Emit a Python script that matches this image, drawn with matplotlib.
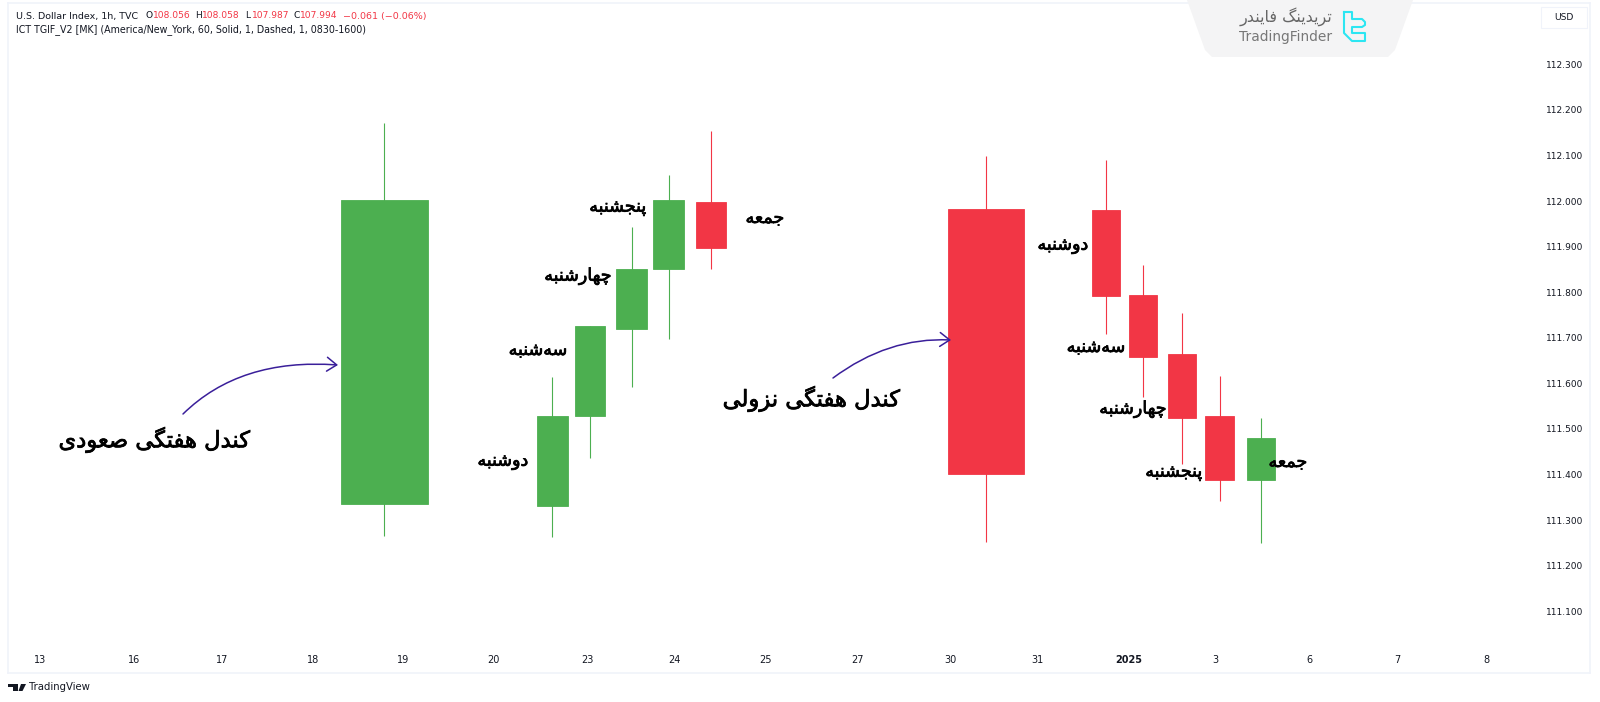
import matplotlib
matplotlib.use('Agg')
import matplotlib.pyplot as plt
import matplotlib.patheffects as pe
from matplotlib.patches import Polygon, FancyArrowPatch
from matplotlib.lines import Line2D
from matplotlib.path import Path

# price levels and time scale
price_ticks = [112.3, 112.2, 112.1, 112.0, 111.9, 111.8, 111.7, 111.6, 111.5, 111.4, 111.3, 111.2, 111.1]
day_labels = ['13', '16', '17', '18', '19', '20', '23', '24', '25', '27', '30', '31', '2025', '3', '6', '7', '8']
day_pos = [0, 1.05, 2.02, 3.03, 4.03, 5.03, 6.07, 7.04, 8.04, 9.06, 10.10, 11.06, 12.07, 13.03, 14.07, 15.05, 16.04]

# candles
candle_x = [3.82, 5.68, 6.10, 6.56, 6.97, 7.44, 10.49, 11.82, 12.23, 12.66, 13.08, 13.54]
candle_w = [0.97, 0.34, 0.34, 0.34, 0.34, 0.34, 0.85, 0.315, 0.315, 0.315, 0.315, 0.315]
opens = [111.335, 111.331, 111.528, 111.720, 111.850, 111.998, 111.982, 111.980, 111.794, 111.664, 111.528, 111.389]
closes = [112.002, 111.528, 111.725, 111.850, 112.002, 111.897, 111.402, 111.792, 111.657, 111.523, 111.389, 111.481]
highs = [112.172, 111.615, 111.725, 111.942, 112.058, 112.154, 112.099, 112.090, 111.859, 111.754, 111.617, 111.523]
lows = [111.266, 111.263, 111.436, 111.593, 111.698, 111.850, 111.252, 111.709, 111.570, 111.422, 111.342, 111.250]

GREEN = '#4CAF50'
RED = '#F23645'
FIG_W, FIG_H = 1600, 702

# matplotlib does no arabic shaping, so pick the presentation forms here
# letter: isolated, final, initial, medial
FORMS = {
    'ا': '\uFE8D\uFE8E', 'د': '\uFEA9\uFEAA', 'ر': '\uFEAD\uFEAE', 'ز': '\uFEAF\uFEB0', 'و': '\uFEED\uFEEE',
    'ب': '\uFE8F\uFE90\uFE91\uFE92', 'پ': '\uFB56\uFB57\uFB58\uFB59', 'ت': '\uFE95\uFE96\uFE97\uFE98',
    'ج': '\uFE9D\uFE9E\uFE9F\uFEA0', 'چ': '\uFB7A\uFB7B\uFB7C\uFB7D', 'س': '\uFEB1\uFEB2\uFEB3\uFEB4',
    'ش': '\uFEB5\uFEB6\uFEB7\uFEB8', 'ص': '\uFEB9\uFEBA\uFEBB\uFEBC', 'ع': '\uFEC9\uFECA\uFECB\uFECC',
    'ف': '\uFED1\uFED2\uFED3\uFED4', 'ک': '\uFB8E\uFB8F\uFB90\uFB91', 'گ': '\uFB92\uFB93\uFB94\uFB95',
    'ل': '\uFEDD\uFEDE\uFEDF\uFEE0', 'م': '\uFEE1\uFEE2\uFEE3\uFEE4', 'ن': '\uFEE5\uFEE6\uFEE7\uFEE8',
    'ه': '\uFEE9\uFEEA\uFEEB\uFEEC', 'ی': '\uFBFC\uFBFD\uFBFE\uFBFF',
}


def fa(text):
    out = []
    for i, ch in enumerate(text):
        if ch not in FORMS:
            if ch != '\u200c':
                out.append(ch)
            continue
        f = FORMS[ch]
        prev = text[i - 1] if i > 0 else ''
        nxt = text[i + 1] if i + 1 < len(text) else ''
        from_prev = prev in FORMS and len(FORMS[prev]) == 4
        to_next = nxt in FORMS and len(f) == 4
        if from_prev and to_next:
            out.append(f[3])
        elif to_next:
            out.append(f[2])
        elif from_prev:
            out.append(f[1])
        else:
            out.append(f[0])
    return ''.join(out[::-1])


def fx(x):
    return x / FIG_W


def fy(y):
    return 1 - y / FIG_H


plt.rcParams['font.family'] = ['DejaVu Sans']
fig = plt.figure(figsize=(16, 7.02), dpi=100)
fig.patch.set_facecolor('white')

# panel, whole chart incl. the price scale
L, R, T, B = 8, 1590, 3, 673
ax = fig.add_axes([fx(L), fy(B), fx(R - L), (B - T) / FIG_H])
ax.set_xlim(-0.353, 17.186)
ax.set_ylim(110.9645, 112.4345)
for s in ax.spines.values():
    s.set_color('#F0F3FA')
    s.set_linewidth(1.2)

for x, w, o, c, h, l in zip(candle_x, candle_w, opens, closes, highs, lows):
    col = GREEN if c >= o else RED
    ax.vlines(x, l, h, color=col, linewidth=0.8, zorder=2)
    ax.bar(x, abs(c - o), w, bottom=min(o, c), color=col, edgecolor=col, linewidth=0.6, zorder=3)

ax.yaxis.tick_right()
ax.set_yticks(price_ticks)
ax.set_yticklabels(['%.3f' % p for p in price_ticks])
ax.tick_params(axis='y', length=0, pad=-31.7, labelsize=6.5, labelcolor='#131722')
ax.set_xticks(day_pos)
ax.set_xticklabels(day_labels)
ax.tick_params(axis='x', length=0, pad=-13, labelsize=7, labelcolor='#131722')
ax.get_xticklabels()[day_labels.index('2025')].set_fontweight('bold')

# header
fig.text(fx(16), fy(16), 'U.S. Dollar Index, 1h, TVC', fontsize=6.8, color='#131722', va='center')
ohlc = [(146, 'O', '108.056'), (195, 'H', '108.058'), (245, 'L', '107.987'), (293, 'C', '107.994')]
for x, k, v in ohlc:
    fig.text(fx(x), fy(16), k, fontsize=6.6, color='#131722', va='center')
    fig.text(fx(x + 7), fy(16), v, fontsize=6.6, color=RED, va='center')
fig.text(fx(343), fy(16), '\u22120.061 (\u22120.06%)', fontsize=6.8, color=RED, va='center')
fig.text(fx(16), fy(30), 'ICT TGIF_V2 [MK] (America/New_York, 60, Solid, 1, Dashed, 1, 0830-1600)',
         fontsize=6.85, color='#131722', va='center')

# usd box
fig.text(fx(1564), fy(18), 'USD', fontsize=6.6, color='#131722', va='center', ha='center')
fig.add_artist(plt.Rectangle((fx(1541), fy(28)), 46 / FIG_W, 21 / FIG_H, transform=fig.transFigure,
                             fc='white', ec='#F0F3FA', lw=0.8, zorder=0.5))

# logo tab
tab = [(1187, 0), (1413, 0), (1395, 50), (1388, 57), (1212, 57), (1205, 50)]
fig.add_artist(Polygon([(fx(x), fy(y)) for x, y in tab], closed=True, transform=fig.transFigure,
                       fc='#F4F4F5', ec='none', zorder=3))
fig.text(fx(1332), fy(17), fa('تریدینگ فایندر'), fontsize=11.5, color='#666666', ha='right', va='center', zorder=4)
fig.text(fx(1332), fy(37), 'TradingFinder', fontsize=9.9, color='#777777', ha='right', va='center', zorder=4)
mark = [(1344, 12), (1352, 12), (1352, 19), (1362, 19), (1365, 22), (1365, 25), (1362, 27), (1352, 27), (1352, 33),
        (1365, 33), (1365, 41), (1352, 41), (1344, 33), (1344, 12)]
fig.add_artist(Line2D([fx(x) for x, y in mark], [fy(y) for x, y in mark], transform=fig.transFigure,
                      color='#2CE6F2', lw=1.5, zorder=4))

# persian labels, positions in pixels
bold = [pe.withStroke(linewidth=0.55, foreground='black')]
labels = [
    ('دوشنبه', 503, 461), ('سه‌شنبه', 538, 350), ('چهارشنبه', 578, 276), ('پنجشنبه', 618, 207), ('جمعه', 765, 218),
    ('دوشنبه', 1063, 245), ('سه‌شنبه', 1096, 347), ('چهارشنبه', 1133, 409), ('پنجشنبه', 1174, 472), ('جمعه', 1288, 462),
]
for s, x, y in labels:
    fig.text(fx(x), fy(y), fa(s), fontsize=12.6, color='black', ha='center', va='center', path_effects=bold)
fig.text(fx(154), fy(440), fa('کندل هفتگی صعودی'), fontsize=16.3, color='black', ha='center', va='center', path_effects=bold)
fig.text(fx(811), fy(399), fa('کندل هفتگی نزولی'), fontsize=16.3, color='black', ha='center', va='center', path_effects=bold)

# arrows, quadratic curves: start, control, end
arrows = [((183, 414), (240, 358), (338, 365)), ((833, 378), (888, 337), (951, 340))]
for a, c, b in arrows:
    verts = [(fx(p[0]), fy(p[1])) for p in (a, c, b)]
    fig.add_artist(FancyArrowPatch(path=Path(verts, [Path.MOVETO, Path.CURVE3, Path.CURVE3]), transform=fig.transFigure,
                                   arrowstyle='->,head_length=7,head_width=5',
                                   color='#3A1F9A', lw=1.1, zorder=5))

# footer
fig.text(fx(29), fy(687), 'TradingView', fontsize=7.3, color='#131722', va='center')
tv = [(8, 684), (18, 684), (18, 691), (13, 691), (13, 687), (8, 687)]
fig.add_artist(Polygon([(fx(x), fy(y)) for x, y in tv], closed=True, transform=fig.transFigure, fc='#131722', ec='none'))
tv2 = [(21, 684), (26, 684), (22.5, 691), (18.5, 691)]
fig.add_artist(Polygon([(fx(x), fy(y)) for x, y in tv2], closed=True, transform=fig.transFigure, fc='#131722', ec='none'))

fig.savefig('out.png', dpi=100)
